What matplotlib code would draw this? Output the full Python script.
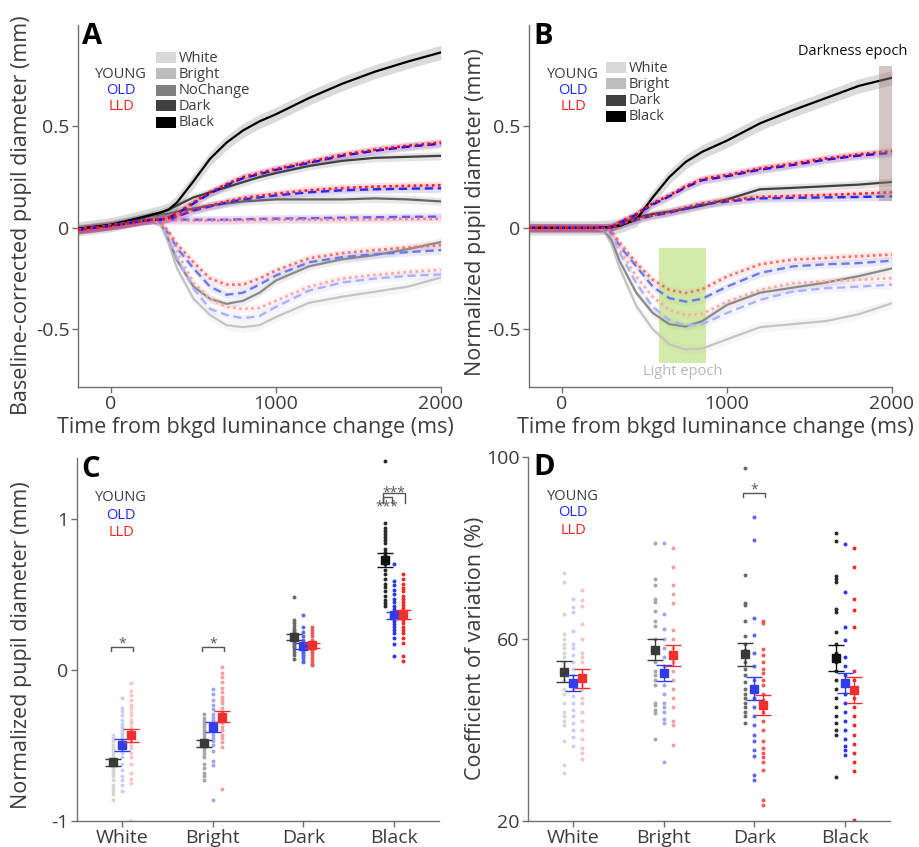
import numpy as np
import matplotlib
matplotlib.use("Agg")
import matplotlib.pyplot as plt
from matplotlib.patches import Rectangle

plt.rcParams['font.family'] = ['Open Sans', 'DejaVu Sans']
TXT = '#3c3c3c'
AXC = '#707070'
W, H = 919, 847

# ---------------- data: panel A (baseline corrected) ----------------
t_a = [-200, 0, 200, 250, 300, 350, 400, 500, 600, 700, 800, 900, 1000, 1200, 1400, 1600, 1800, 2000]
a_young_white = [-0.005, 0.015, 0.05, 0.055, 0.02, -0.08, -0.2, -0.35, -0.43, -0.48, -0.49, -0.48, -0.44, -0.37, -0.34, -0.315, -0.29, -0.245]
a_young_bright = [-0.005, 0.015, 0.05, 0.055, 0.025, -0.06, -0.16, -0.29, -0.35, -0.375, -0.36, -0.32, -0.26, -0.19, -0.155, -0.135, -0.105, -0.07]
a_young_nochange = [-0.005, 0.015, 0.05, 0.06, 0.065, 0.07, 0.08, 0.095, 0.11, 0.12, 0.13, 0.135, 0.14, 0.14, 0.14, 0.145, 0.14, 0.13]
a_young_dark = [-0.005, 0.015, 0.05, 0.065, 0.075, 0.09, 0.11, 0.15, 0.175, 0.2, 0.225, 0.25, 0.27, 0.305, 0.33, 0.345, 0.35, 0.355]
a_young_black = [-0.005, 0.015, 0.055, 0.065, 0.075, 0.09, 0.125, 0.23, 0.34, 0.42, 0.48, 0.525, 0.56, 0.64, 0.71, 0.77, 0.82, 0.865]
a_old_white = [-0.01, 0.01, 0.035, 0.04, 0.02, -0.06, -0.15, -0.30, -0.40, -0.43, -0.446, -0.435, -0.39, -0.31, -0.27, -0.25, -0.237, -0.23]
a_old_bright = [-0.01, 0.01, 0.035, 0.04, 0.025, -0.03, -0.1, -0.2, -0.29, -0.33, -0.32, -0.28, -0.235, -0.17, -0.145, -0.13, -0.12, -0.11]
a_old_nochange = [-0.01, 0.01, 0.035, 0.04, 0.04, 0.04, 0.04, 0.04, 0.04, 0.04, 0.042, 0.044, 0.045, 0.047, 0.05, 0.052, 0.054, 0.055]
a_old_dark = [-0.01, 0.01, 0.035, 0.04, 0.04, 0.045, 0.055, 0.085, 0.105, 0.125, 0.14, 0.15, 0.16, 0.175, 0.185, 0.19, 0.193, 0.195]
a_old_black = [-0.01, 0.01, 0.035, 0.04, 0.04, 0.05, 0.07, 0.12, 0.17, 0.21, 0.245, 0.265, 0.286, 0.32, 0.355, 0.38, 0.4, 0.415]
a_lld_white = [-0.01, 0.01, 0.035, 0.04, 0.025, -0.04, -0.12, -0.27, -0.35, -0.39, -0.40, -0.395, -0.36, -0.29, -0.25, -0.232, -0.218, -0.207]
a_lld_bright = [-0.01, 0.01, 0.035, 0.04, 0.03, -0.02, -0.08, -0.17, -0.25, -0.28, -0.28, -0.25, -0.21, -0.15, -0.125, -0.11, -0.097, -0.085]
a_lld_nochange = [-0.01, 0.01, 0.035, 0.04, 0.04, 0.038, 0.036, 0.036, 0.036, 0.037, 0.038, 0.039, 0.04, 0.041, 0.042, 0.043, 0.044, 0.045]
a_lld_dark = [-0.01, 0.01, 0.035, 0.04, 0.04, 0.047, 0.058, 0.09, 0.11, 0.13, 0.147, 0.158, 0.168, 0.185, 0.196, 0.203, 0.207, 0.21]
a_lld_black = [-0.01, 0.01, 0.035, 0.04, 0.04, 0.05, 0.072, 0.125, 0.175, 0.215, 0.25, 0.27, 0.29, 0.325, 0.36, 0.385, 0.405, 0.42]

# ---------------- data: panel B (normalized) ----------------
t_b = [-200, 0, 200, 250, 300, 350, 450, 550, 650, 750, 850, 1000, 1200, 1400, 1600, 1800, 2000]
b_young_white = [0, 0, 0, -0.01, -0.08, -0.2, -0.385, -0.5, -0.574, -0.6, -0.595, -0.55, -0.49, -0.475, -0.46, -0.426, -0.372]
b_young_bright = [0, 0, 0, -0.008, -0.06, -0.165, -0.32, -0.42, -0.475, -0.487, -0.46, -0.38, -0.32, -0.295, -0.27, -0.238, -0.2]
b_young_dark = [0, 0, 0, 0.002, 0.005, 0.015, 0.05, 0.068, 0.08, 0.093, 0.11, 0.14, 0.19, 0.197, 0.205, 0.213, 0.226]
b_young_black = [0, 0, 0, 0.002, 0.005, 0.01, 0.04, 0.15, 0.25, 0.325, 0.375, 0.43, 0.515, 0.58, 0.64, 0.70, 0.74]
b_old_white = [0, 0, 0, -0.005, -0.04, -0.124, -0.273, -0.39, -0.455, -0.483, -0.475, -0.42, -0.355, -0.314, -0.298, -0.29, -0.28]
b_old_bright = [0, 0, 0, -0.003, -0.025, -0.09, -0.19, -0.29, -0.347, -0.364, -0.35, -0.29, -0.223, -0.19, -0.18, -0.174, -0.162]
b_old_dark = [0, 0, 0, 0, 0.002, 0.016, 0.04, 0.06, 0.074, 0.095, 0.115, 0.13, 0.145, 0.148, 0.15, 0.152, 0.155]
b_old_black = [0, 0, 0, 0, 0.003, 0.025, 0.065, 0.115, 0.155, 0.2, 0.235, 0.254, 0.287, 0.31, 0.336, 0.356, 0.37]
b_lld_white = [0, 0, 0, -0.004, -0.033, -0.107, -0.24, -0.34, -0.405, -0.43, -0.425, -0.364, -0.306, -0.273, -0.264, -0.256, -0.248]
b_lld_bright = [0, 0, 0, -0.002, -0.017, -0.074, -0.174, -0.256, -0.306, -0.322, -0.303, -0.24, -0.18, -0.157, -0.149, -0.14, -0.132]
b_lld_dark = [0, 0, 0, 0, 0.002, 0.018, 0.043, 0.063, 0.078, 0.1, 0.12, 0.136, 0.152, 0.157, 0.162, 0.168, 0.175]
b_lld_black = [0, 0, 0, 0, 0.003, 0.027, 0.068, 0.12, 0.16, 0.205, 0.24, 0.26, 0.292, 0.316, 0.342, 0.362, 0.378]

light_epoch = (590, 875, -0.665, -0.1)
dark_epoch = (1922, 2000, 0.13, 0.80)

# ---------------- data: panel C (normalized pupil diameter) ----------------
cats = ['White', 'Bright', 'Dark', 'Black']
c_young_mean = [-0.612, -0.486, 0.216, 0.728]
c_young_sem = [0.025, 0.023, 0.022, 0.047]
c_old_mean = [-0.497, -0.38, 0.157, 0.36]
c_old_sem = [0.04, 0.033, 0.022, 0.025]
c_lld_mean = [-0.433, -0.311, 0.163, 0.366]
c_lld_sem = [0.043, 0.035, 0.016, 0.03]

c_young_white = [-0.43, -0.45, -0.47, -0.5, -0.52, -0.54, -0.56, -0.58, -0.6, -0.61, -0.62, -0.63, -0.64, -0.65, -0.66, -0.68, -0.7, -0.73, -0.76, -0.78, -0.8, -0.82, -0.86]
c_old_white = [-0.19, -0.25, -0.27, -0.3, -0.33, -0.36, -0.38, -0.4, -0.42, -0.44, -0.46, -0.48, -0.5, -0.52, -0.55, -0.58, -0.62, -0.66, -0.7, -0.73, -0.76, -0.8]
c_lld_white = [-0.09, -0.14, -0.17, -0.2, -0.23, -0.25, -0.28, -0.3, -0.33, -0.35, -0.38, -0.4, -0.43, -0.46, -0.48, -0.5, -0.52, -0.55, -0.58, -0.62, -0.68, -0.72, -0.75, -1.0]
c_young_bright = [-0.29, -0.32, -0.34, -0.36, -0.38, -0.4, -0.42, -0.44, -0.46, -0.48, -0.5, -0.52, -0.54, -0.56, -0.58, -0.62, -0.65, -0.68, -0.7, -0.73]
c_old_bright = [-0.13, -0.16, -0.2, -0.23, -0.26, -0.29, -0.31, -0.33, -0.35, -0.37, -0.39, -0.41, -0.43, -0.45, -0.47, -0.5, -0.54, -0.6, -0.63, -0.86]
c_lld_bright = [0.02, -0.02, -0.05, -0.08, -0.12, -0.15, -0.18, -0.2, -0.22, -0.25, -0.28, -0.3, -0.32, -0.35, -0.38, -0.4, -0.43, -0.45, -0.48, -0.51, -0.79]
c_young_dark = [0.48, 0.33, 0.31, 0.29, 0.27, 0.26, 0.25, 0.24, 0.23, 0.22, 0.21, 0.2, 0.19, 0.18, 0.17, 0.16, 0.15, 0.14, 0.12, 0.1, 0.07]
c_old_dark = [0.36, 0.28, 0.25, 0.22, 0.2, 0.18, 0.17, 0.16, 0.15, 0.14, 0.13, 0.12, 0.11, 0.1, 0.09, 0.08, 0.06, 0.05]
c_lld_dark = [0.28, 0.26, 0.24, 0.22, 0.2, 0.18, 0.17, 0.16, 0.15, 0.14, 0.13, 0.12, 0.1, 0.08, 0.06, 0.04, 0.03]
c_young_black = [1.38, 0.97, 0.94, 0.92, 0.9, 0.88, 0.86, 0.84, 0.8, 0.78, 0.76, 0.74, 0.72, 0.7, 0.66, 0.63, 0.6, 0.57, 0.55, 0.52, 0.49, 0.46, 0.44, 0.42]
c_old_black = [0.7, 0.59, 0.56, 0.53, 0.5, 0.47, 0.45, 0.42, 0.4, 0.38, 0.36, 0.34, 0.32, 0.3, 0.28, 0.26, 0.24, 0.21, 0.17, 0.09]
c_lld_black = [0.63, 0.6, 0.57, 0.54, 0.52, 0.49, 0.47, 0.45, 0.43, 0.41, 0.39, 0.37, 0.35, 0.33, 0.31, 0.28, 0.26, 0.24, 0.21, 0.18, 0.09, 0.06]

# ---------------- data: panel D (coefficient of variation) ----------------
d_young_mean = [52.8, 57.6, 56.6, 55.8]
d_young_sem = [2.3, 2.3, 2.5, 2.9]
d_old_mean = [50.3, 52.5, 49.1, 50.3]
d_old_sem = [1.7, 1.8, 2.5, 2.2]
d_lld_mean = [51.4, 56.4, 45.5, 48.8]
d_lld_sem = [2.1, 2.35, 2.3, 2.9]

d_young_white = [74.6, 72.6, 65.6, 61, 60, 59, 58, 57, 56, 55, 54, 53, 51, 49, 48, 46, 44, 43, 42, 41, 37.5, 32.3, 30.6]
d_old_white = [68.7, 67, 66, 61.7, 59, 58, 56.5, 55, 53.5, 52, 50.5, 49, 47.5, 46, 44.5, 43, 41.5, 40, 38.5, 36.5]
d_lld_white = [70.8, 68.5, 67.3, 63.2, 59.9, 57, 56, 55, 52, 50, 49, 47, 46, 44, 42, 40, 38, 36, 35, 33.6]
d_young_bright = [81.1, 73.1, 71.9, 68.7, 68.1, 66.2, 63.9, 62.8, 60, 57, 55, 53, 52, 51, 50, 46, 45.5, 44.5, 43.7, 38]
d_old_bright = [81.1, 65.6, 62.3, 60, 58, 56, 54, 52, 50, 48, 46, 45, 44, 42.5, 41.5, 33]
d_lld_bright = [79.9, 75.9, 71.8, 69.8, 68, 62, 60, 58, 55, 53, 51, 49, 47, 45, 41.9, 41.1, 36.7]
d_young_dark = [97.6, 74.1, 68, 67.4, 63.9, 60.6, 59, 57.5, 56, 55, 53.5, 52, 50.5, 49, 48, 47, 46, 45, 44, 43, 41.5]
d_old_dark = [86.8, 81.8, 64.7, 60.8, 57, 54, 51, 49, 47, 45, 43, 41, 39, 37.5, 35.5, 34.3, 30.2, 29.1]
d_lld_dark = [63.9, 63.5, 57.7, 56.5, 55, 53.5, 52.5, 51, 50, 48, 46.5, 45, 44, 42, 40, 37.5, 36, 35, 34, 33, 31.2, 24.7, 23.6]
d_young_black = [83.2, 81.5, 73.9, 73.1, 72.6, 66.7, 65.9, 61.5, 59, 57, 55, 53, 51, 49, 47, 45, 43, 41.5, 40, 39, 29.7]
d_old_black = [80.9, 70.4, 62.7, 59.8, 56, 54, 52, 50, 48, 46, 44, 42, 40, 38, 36.5, 35.5, 34.5]
d_lld_black = [80.1, 75.9, 68.7, 66.4, 62.6, 52.9, 51, 49, 47, 45, 43, 41, 39, 37, 35, 33, 31, 20.3]

# ---------------- colours ----------------
legend_cols = {'White': '#d9d9d9', 'Bright': '#bdbdbd', 'NoChange': '#808080',
               'Dark': '#404040', 'Black': '#000000'}
young_cols = {'White': '#c4c4c4', 'Bright': '#8a8a8a', 'NoChange': '#646464',
              'Dark': '#404040', 'Black': '#000000'}
old_cols = {'White': '#aab2ff', 'Bright': '#6e78e8', 'NoChange': '#5a5aff',
            'Dark': '#1f2bff', 'Black': '#0010ff'}
lld_cols = {'White': '#f7aaaa', 'Bright': '#f07070', 'NoChange': '#ff7a7a',
            'Dark': '#ff2020', 'Black': '#ff0000'}

dot_young = ['#d6d6d6', '#a6a6a6', '#6a6a6a', '#2a2a2a']
dot_old = ['#c9cdfa', '#9fa6f6', '#5a64f2', '#2a36f2']
dot_lld = ['#f8c6c6', '#f3a0a0', '#f05a5a', '#f02a2a']
mean_young = ['#3a3a3a', '#3a3a3a', '#3a3a3a', '#111111']
mean_old = '#2f3cf0'
mean_lld = '#f02f2f'


def px(x, y):
    return x / W, 1 - y / H


def style(ax):
    for s in ['top', 'right']:
        ax.spines[s].set_visible(False)
    for s in ['left', 'bottom']:
        ax.spines[s].set_color(AXC)
        ax.spines[s].set_linewidth(1)
    ax.tick_params(direction='out', length=4, width=1, color=AXC,
                   labelcolor=TXT, labelsize=14, pad=2)


def time_curves(ax, t, young, old, lld, sems):
    t = np.array(t)
    order = [('young', young, young_cols, '-', 1.6, 3),
             ('old', old, old_cols, (0, (3.5, 2.0)), 1.7, 4),
             ('lld', lld, lld_cols, (0, (1.0, 1.3)), 1.9, 5)]
    for grp, curves, cols, ls, lw, z in order:
        for cond, y in curves.items():
            y = np.array(y)
            s = sems[grp].get(cond, 0.02)
            ax.fill_between(t, y - s, y + s, color=cols[cond], alpha=0.14, lw=0, zorder=1)
    for grp, curves, cols, ls, lw, z in order:
        for cond, y in curves.items():
            ax.plot(t, y, color=cols[cond], ls=ls, lw=lw, zorder=z)


fig = plt.figure(figsize=(W / 100, H / 100), dpi=100)

# ---------------- panel A ----------------
axA = fig.add_axes([78 / W, 1 - 387 / H, 363 / W, 362 / H])
sems = {'young': {'Black': 0.035, 'White': 0.025}, 'old': {}, 'lld': {}}
time_curves(axA, t_a,
            {'White': a_young_white, 'Bright': a_young_bright, 'NoChange': a_young_nochange,
             'Dark': a_young_dark, 'Black': a_young_black},
            {'White': a_old_white, 'Bright': a_old_bright, 'NoChange': a_old_nochange,
             'Dark': a_old_dark, 'Black': a_old_black},
            {'White': a_lld_white, 'Bright': a_lld_bright, 'NoChange': a_lld_nochange,
             'Dark': a_lld_dark, 'Black': a_lld_black}, sems)
axA.set_ylabel('Baseline-corrected pupil diameter (mm)', fontsize=15.5, color=TXT, va='center')

# ---------------- panel B ----------------
axB = fig.add_axes([529 / W, 1 - 387 / H, 363 / W, 362 / H])
x0, x1, y0, y1 = light_epoch
axB.add_patch(Rectangle((x0, y0), x1 - x0, y1 - y0, color='#b5de6e', alpha=0.6, lw=0, zorder=2))
x0, x1, y0, y1 = dark_epoch
axB.add_patch(Rectangle((x0, y0), x1 - x0, y1 - y0, color='#a07c7c', alpha=0.45, lw=0, zorder=6))
time_curves(axB, t_b,
            {'White': b_young_white, 'Bright': b_young_bright,
             'Dark': b_young_dark, 'Black': b_young_black},
            {'White': b_old_white, 'Bright': b_old_bright,
             'Dark': b_old_dark, 'Black': b_old_black},
            {'White': b_lld_white, 'Bright': b_lld_bright,
             'Dark': b_lld_dark, 'Black': b_lld_black}, sems)
axB.text(730, -0.71, 'Light epoch', ha='center', va='center', fontsize=10.5, color='#b8b8b8')
axB.text(1760, 0.87, 'Darkness epoch', ha='center', va='center', fontsize=10.5, color='#111111')
axB.set_ylabel('Normalized pupil diameter (mm)', fontsize=15.5, color=TXT, va='center')

for ax in (axA, axB):
    style(ax)
    ax.set_xlim(-200, 2000)
    ax.set_ylim(-0.785, 1.0)
    ax.set_xticks([0, 1000, 2000])
    ax.set_yticks([-0.5, 0, 0.5])
    ax.set_yticklabels(['-0.5', '0', '0.5'])
    ax.set_xlabel('Time from bkgd luminance change (ms)', fontsize=15.5, color=TXT, va='center')
axA.yaxis.set_label_coords((22 - 78) / 363, (387 - 215) / 362)
axB.yaxis.set_label_coords((475 - 529) / 363, (387 - 212) / 362)
axA.xaxis.set_label_coords((255 - 78) / 363, (387 - 427) / 362)
axB.xaxis.set_label_coords((715 - 529) / 363, (387 - 427) / 362)

# ---------------- panels C and D ----------------
offs = [-0.1, 0.0, 0.1]
axC = fig.add_axes([77 / W, 1 - 821 / H, 362 / W, 363 / H])
axD = fig.add_axes([528 / W, 1 - 821 / H, 362 / W, 364 / H])

c_points = [[c_young_white, c_old_white, c_lld_white],
            [c_young_bright, c_old_bright, c_lld_bright],
            [c_young_dark, c_old_dark, c_lld_dark],
            [c_young_black, c_old_black, c_lld_black]]
d_points = [[d_young_white, d_old_white, d_lld_white],
            [d_young_bright, d_old_bright, d_lld_bright],
            [d_young_dark, d_old_dark, d_lld_dark],
            [d_young_black, d_old_black, d_lld_black]]


def summary_panel(ax, points, means, sems_):
    for i in range(len(cats)):
        cols = [dot_young[i], dot_old[i], dot_lld[i]]
        for g in range(3):
            vals = points[i][g]
            ax.scatter(np.full(len(vals), i + offs[g]), vals, s=8, color=cols[g],
                       lw=0, zorder=2)
    mcols = [mean_young, [mean_old] * 4, [mean_lld] * 4]
    for g in range(3):
        for i in range(len(cats)):
            ax.errorbar(i + offs[g], means[g][i], yerr=sems_[g][i], fmt='s', ms=6,
                        color=mcols[g][i], ecolor=mcols[g][i], elinewidth=1,
                        capsize=5.5, capthick=1, zorder=4 + g)
    style(ax)
    ax.set_xlim(-0.5, 3.5)
    ax.set_xticks(range(len(cats)))
    ax.set_xticklabels(cats)


def bracket(ax, xa, xb, ytop, ybot, label, xt, yt, fs=10):
    ax.plot([xa, xa, xb, xb], [ybot, ytop, ytop, ybot], color='#555555', lw=1, zorder=6)
    ax.text(xt, yt, label, ha='center', va='center', fontsize=fs, color='#555555')


summary_panel(axC, c_points, [c_young_mean, c_old_mean, c_lld_mean],
              [c_young_sem, c_old_sem, c_lld_sem])
axC.set_ylim(-1, 1.4)
axC.set_yticks([-1, 0, 1])
axC.set_yticklabels(['-1', '0', '1'])
axC.set_ylabel('Normalized pupil diameter (mm)', fontsize=15.5, color=TXT, va='center')
axC.yaxis.set_label_coords((22 - 77) / 362, (821 - 645) / 363)
bracket(axC, -0.12, 0.12, 0.15, 0.124, '*', 0.0, 0.17)
bracket(axC, 0.88, 1.12, 0.15, 0.124, '*', 1.0, 0.17)
bracket(axC, 2.88, 3.12, 1.166, 1.10, '***', 3.0, 1.17)
bracket(axC, 2.88, 2.98, 1.14, 1.10, '***', 2.92, 1.075)

summary_panel(axD, d_points, [d_young_mean, d_old_mean, d_lld_mean],
              [d_young_sem, d_old_sem, d_lld_sem])
axD.set_ylim(20, 100)
axD.set_yticks([20, 60, 100])
axD.set_ylabel('Coefficient of variation (%)', fontsize=15.5, color=TXT, va='center')
axD.yaxis.set_label_coords((475 - 528) / 362, (821 - 648) / 364)
bracket(axD, 1.88, 2.12, 92.05, 91.2, '*', 2.0, 92.7)

# ---------------- legends ----------------
grp_names = ['YOUNG', 'OLD', 'LLD']
grp_cols = ['#3c3c3c', '#1f2bff', '#ff2020']
for cx, ys in [(121, [74, 91, 107]), (573, [74, 91, 107]),
               (121, [497, 515, 532]), (573, [496, 513, 530])]:
    for name, col, yy in zip(grp_names, grp_cols, ys):
        fig.text(*px(cx, yy), name, ha='center', va='center', fontsize=10.5, color=col)

legend_a = ['White', 'Bright', 'NoChange', 'Dark', 'Black']
legend_b = ['White', 'Bright', 'Dark', 'Black']
for names, xl, ys in [(legend_a, 156, [58, 74, 90, 106, 123]),
                      (legend_b, 606, [68, 84, 101, 117])]:
    for name, yy in zip(names, ys):
        fig.add_artist(Rectangle(px(xl, yy + 5.5), 20 / W, 11 / H, transform=fig.transFigure,
                                 facecolor=legend_cols[name], edgecolor='none'))
        fig.text(*px(xl + 23, yy), name, ha='left', va='center', fontsize=10.5, color=TXT)

# ---------------- panel letters ----------------
for letter, (lx, ly) in zip('ABCD', [(82, 36), (533, 37), (81, 469), (533, 467)]):
    fig.text(*px(lx, ly), letter, ha='left', va='center', fontsize=21,
             fontweight='bold', color='black')

fig.savefig('out.png', dpi=100)
